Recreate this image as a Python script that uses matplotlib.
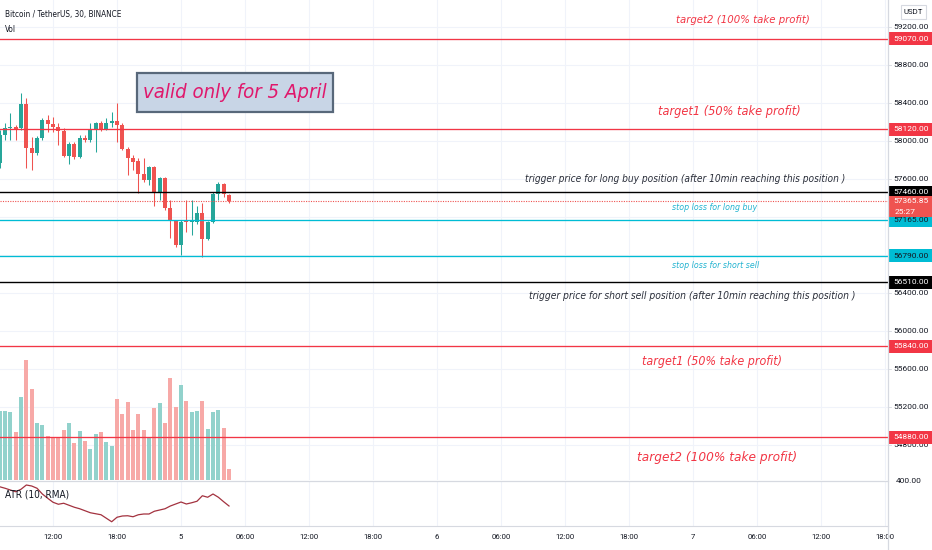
import matplotlib
matplotlib.use("Agg")
import matplotlib.pyplot as plt
from matplotlib.patches import Rectangle
from matplotlib import font_manager as fm

# ---------------- data ----------------
opens = [57766, 58060, 58134, 58144, 58134, 58386, 57923, 57871, 58029, 58218,
         58176, 58144, 58102, 57839, 57965, 57829, 58029, 58007, 58113, 58186,
         58123, 58186, 58207, 58165, 57913, 57818, 57787, 57650, 57587, 57723,
         57460, 57608, 57292, 57155, 56903, 57155, 57145, 57150, 57239, 56966,
         57145, 57439, 57545, 57429]
closes = [58060, 58134, 58144, 58113, 58386, 57923, 57871, 58029, 58218, 58176,
          58144, 58102, 57839, 57965, 57829, 58029, 58007, 58113, 58186, 58123,
          58186, 58207, 58165, 57913, 57818, 57776, 57650, 57587, 57723, 57460,
          57608, 57292, 57155, 56903, 57145, 57145, 57166, 57239, 56966, 57145,
          57439, 57545, 57439, 57365.85]
highs = [58113, 58186, 58292, 58165, 58502, 58449, 58039, 58050, 58239, 58270,
         58249, 58186, 58134, 57986, 57986, 58060, 58060, 58186, 58197, 58207,
         58239, 58302, 58397, 58186, 57934, 57850, 57818, 57818, 57734, 57734,
         57618, 57618, 57376, 57166, 57166, 57376, 57376, 57313, 57345, 57155,
         57460, 57566, 57555, 57439]
lows = [57713, 58007, 58007, 58007, 58113, 57713, 57692, 57850, 58007, 58092,
        58092, 57955, 57829, 57755, 57808, 57818, 57986, 57986, 57881, 58102,
        58113, 58144, 57986, 57902, 57639, 57692, 57450, 57566, 57534, 57313,
        57376, 57271, 56977, 56882, 56798, 57040, 57008, 57124, 56777, 56956,
        57134, 57376, 57408, 57345]
volumes = [1725, 1725, 1692, 1200, 2067, 3000, 2267, 1433, 1383, 1100,
           1067, 1067, 1250, 1433, 933, 1233, 983, 767, 1150, 1200,
           958, 850, 2017, 1650, 1950, 1250, 1650, 1250, 1042, 1800,
           1933, 1433, 2550, 1833, 2383, 1967, 1692, 1725, 1967, 1275,
           1692, 1750, 1300, 283]
atr = [389, 383, 376, 369, 379, 396, 392, 383, 360, 343,
       327, 319, 323, 315, 307, 301, 293, 285, 281, 277,
       263, 249, 267, 272, 273, 269, 277, 280, 280, 291,
       296, 301, 312, 320, 328, 320, 325, 331, 353, 347,
       360, 347, 329, 312]

time_tick_idx = [10, 22, 34, 46, 58, 70, 82, 94, 106, 118, 130, 142, 154, 166]
time_tick_labels = ["12:00", "18:00", "5", "06:00", "12:00", "18:00", "6",
                    "06:00", "12:00", "18:00", "7", "06:00", "12:00", "18:00"]
price_ticks = [54800, 55200, 55600, 56000, 56400, 56800, 57200, 57600,
               58000, 58400, 58800, 59200]
hidden_price_ticks = [56800, 57200]
atr_ticks = [400]

level_prices = [59070, 58120, 57460, 57165, 56790, 56510, 55840, 54880]
level_kinds = ["red", "red", "black", "cyan", "cyan", "black", "red", "red"]
current_price = 57365.85
countdown = "25:27"

title_text = "Bitcoin / TetherUS, 30, BINANCE"
vol_text = "Vol"
atr_text = "ATR (10, RMA)"
currency = "USDT"
note_texts = ["target2 (100% take profit)", "target1 (50% take profit)",
              "trigger price for long buy position (after 10min reaching this position )",
              "stop loss for long buy", "stop loss for short sell",
              "trigger price for short sell position (after 10min reaching this position )",
              "target1 (50% take profit)", "target2 (100% take profit)"]
banner_text = "valid only for 5 April"

# ---------------- style ----------------
W, H = 932, 550
UP, DOWN = "#26a69a", "#ef5350"
UP_V, DOWN_V = "#92d2cc", "#f7a9a7"
LINE_RED = "#f23645"
CYAN = "#00bcd4"
GRID = "#f0f3fa"
BORDER = "#d6d9e0"
TXT = "#131722"
kind_color = {"red": LINE_RED, "black": "#000000", "cyan": CYAN}
kind_text = {"red": "white", "black": "white", "cyan": TXT}

names = {f.name for f in fm.fontManager.ttflist}
if "Liberation Sans Narrow" in names:
    cond_kw = dict(family="Liberation Sans Narrow")
elif any(f.name == "DejaVu Sans" and "condensed" in str(f.stretch) for f in fm.fontManager.ttflist):
    cond_kw = dict(family="DejaVu Sans", stretch="condensed")
elif "Roboto Condensed" in names:
    cond_kw = dict(family="Roboto Condensed")
else:
    cond_kw = dict(family="Lato")
UI = "Roboto" if "Roboto" in names else "DejaVu Sans"

fig = plt.figure(figsize=(W / 100, H / 100), dpi=100)
fig.patch.set_facecolor("white")
renderer = fig.canvas.get_renderer()


def fx(x):
    return x / W


def fy(y):
    return 1 - y / H


def fit(t, width_px):
    for _ in range(3):
        bb = t.get_window_extent(renderer)
        if bb.width > 0:
            t.set_fontsize(t.get_fontsize() * width_px / bb.width)
    return t


PLOT_R = 888
MAIN_TOP, MAIN_BOT = 0, 480
ATR_TOP, ATR_BOT = 481, 526
XMIN, XMAX = 0.06, 166.56
YMIN, YMAX = 54431, 59480

main_rect = [0, fy(MAIN_BOT), fx(PLOT_R), (MAIN_BOT - MAIN_TOP) / H]
atr_rect = [0, fy(ATR_BOT), fx(PLOT_R), (ATR_BOT - ATR_TOP) / H]

# grid axes (bottom layer)
axg = fig.add_axes(main_rect)
axg.set_xlim(XMIN, XMAX)
axg.set_ylim(YMIN, YMAX)
for p in price_ticks:
    axg.axhline(p, color=GRID, lw=0.8, zorder=0)
for t in time_tick_idx:
    axg.axvline(t, color=GRID, lw=0.8, zorder=0)
axg.axis("off")

# volume axes
axv = fig.add_axes(main_rect)
axv.set_facecolor("none")
idx = list(range(len(opens)))
vcols = [UP_V if c >= o else DOWN_V for o, c in zip(opens, closes)]
axv.bar(idx, volumes, width=0.8, color=vcols, zorder=1)
axv.set_xlim(XMIN, XMAX)
axv.set_ylim(0, 12000)
axv.axis("off")

# main price axes
ax = fig.add_axes(main_rect)
ax.set_facecolor("none")
ax.set_xlim(XMIN, XMAX)
ax.set_ylim(YMIN, YMAX)
ax.axis("off")

ccols = [UP if c >= o else DOWN for o, c in zip(opens, closes)]
ax.vlines(idx, lows, highs, colors=ccols, lw=0.75, zorder=3)
bottoms = [min(o, c) for o, c in zip(opens, closes)]
heights = [max(abs(c - o), 12) for o, c in zip(opens, closes)]
ax.bar(idx, heights, bottom=bottoms, width=0.74, color=ccols, zorder=4)

for p, k in zip(level_prices, level_kinds):
    ax.axhline(p, color=kind_color[k], lw=0.95 if k != "black" else 1.0, zorder=5)
ax.axhline(current_price, color=DOWN, lw=0.8, ls=(0, (1, 1.2)), zorder=5)

# annotations
note_pos = [(743, 20, 133), (729, 112, 142), (685, 179, 320), (715, 207, 85),
            (716, 266, 87), (692, 296, 325), (712, 361, 140), (717, 457, 160)]
note_col = [LINE_RED, LINE_RED, "#2a2e39", "#22b3d0", "#22b3d0", "#2a2e39", LINE_RED, LINE_RED]
for s, (cx, cy, w), col in zip(note_texts, note_pos, note_col):
    t = fig.text(fx(cx), fy(cy), s, color=col, style="italic", ha="center",
                 va="center", fontsize=10, zorder=6, **cond_kw)
    fit(t, w)

# banner
fig.patches.append(Rectangle((fx(137), fy(112)), fx(333) - fx(137), fy(73) - fy(112),
                             transform=fig.transFigure, facecolor="#c8d5e6",
                             edgecolor="#58687a", lw=1.6, zorder=6))
t = fig.text(fx(235), fy(92), banner_text, color="#e0186c", style="italic",
             ha="center", va="center", fontsize=16, zorder=7, **cond_kw)
fit(t, 184)

# header texts
t = fig.text(fx(5), fy(14), title_text, color=TXT, ha="left", va="center",
             fontsize=7, zorder=7, **cond_kw)
fit(t, 116)
fig.text(fx(5), fy(29), vol_text, color=TXT, ha="left", va="center",
         fontsize=t.get_fontsize(), zorder=7, **cond_kw)

# ATR panel
axa = fig.add_axes(atr_rect)
axa.set_xlim(XMIN, XMAX)
axa.set_ylim(232, 412)
for tt in time_tick_idx:
    axa.axvline(tt, color=GRID, lw=0.8, zorder=0)
axa.plot(idx, atr, color="#a3323f", lw=0.9, zorder=3)
for sp in ["top", "left", "right"]:
    axa.spines[sp].set_visible(False)
axa.spines["bottom"].set_color(BORDER)
axa.spines["bottom"].set_linewidth(0.8)
axa.set_yticks([])
axa.set_xticks(time_tick_idx)
axa.set_xticklabels(time_tick_labels, family=UI, fontsize=5.6, color=TXT)
axa.tick_params(axis="x", length=0, pad=5.5)
axa.text(0.006, 0.70, atr_text, transform=axa.transAxes, fontsize=7.2,
         color=TXT, ha="left", va="center", **cond_kw)

# separator between panels
fig.add_artist(plt.Line2D([0, fx(PLOT_R)], [fy(480.5), fy(480.5)],
                          transform=fig.transFigure, color=BORDER, lw=0.9, zorder=8))

# right price scale, bottom part (ATR scale)
axrb = fig.add_axes([fx(PLOT_R), 0, 1 - fx(PLOT_R), fy(MAIN_BOT)])
axrb.set_facecolor("white")
axrb.set_xlim(0, 1)
axrb.set_ylim(136, 412)
axrb.axis("off")
axrb.set_zorder(9)
for a in atr_ticks:
    axrb.text(0.47, a + 10, f"{a:.2f}", ha="center", va="center", family=UI,
              fontsize=6.0, color=TXT)

# right price scale, main part
axr = fig.add_axes([fx(PLOT_R), fy(MAIN_BOT), 1 - fx(PLOT_R), (MAIN_BOT - MAIN_TOP) / H])
axr.set_facecolor("white")
axr.set_xlim(0, 1)
axr.set_ylim(YMIN, YMAX)
axr.axis("off")
axr.set_zorder(10)
ppx = (YMAX - YMIN) / (MAIN_BOT - MAIN_TOP)
for p in price_ticks:
    if p in hidden_price_ticks:
        continue
    axr.text(0.53, p, f"{p:.2f}", ha="center", va="center", family=UI,
             fontsize=6.0, color=TXT, zorder=2)
    axr.plot([0, 0.07], [p, p], color=BORDER, lw=0.6, zorder=2)

for p, k in zip(level_prices, level_kinds):
    axr.add_patch(Rectangle((0, p - 6.5 * ppx), 1, 13 * ppx,
                            facecolor=kind_color[k], edgecolor="none", zorder=3))
    axr.text(0.52, p, f"{p:.2f}", ha="center", va="center", family=UI,
             fontsize=6.0, color=kind_text[k], zorder=4)
axr.add_patch(Rectangle((0, current_price - 16 * ppx), 1, 21 * ppx,
                        facecolor=DOWN, edgecolor="none", zorder=5))
axr.text(0.52, current_price, f"{current_price:.2f}", ha="center", va="center",
         family=UI, fontsize=6.0, color="white", zorder=6)
axr.text(0.14, current_price - 11 * ppx, countdown, ha="left", va="center",
         family=UI, fontsize=6.0, color="white", zorder=6)

# currency box
fig.patches.append(Rectangle((fx(901), fy(19)), fx(926) - fx(901), fy(5) - fy(19),
                             transform=fig.transFigure, facecolor="white",
                             edgecolor=BORDER, lw=0.8, zorder=20))
fig.text(fx(913.5), fy(12), currency, ha="center", va="center", family=UI,
         fontsize=5.6, color=TXT, zorder=21)

# vertical divider of price scale
fig.add_artist(plt.Line2D([fx(PLOT_R), fx(PLOT_R)], [0, 1], transform=fig.transFigure,
                          color=BORDER, lw=0.9, zorder=30))

fig.savefig("out.png", dpi=100, facecolor="white")
